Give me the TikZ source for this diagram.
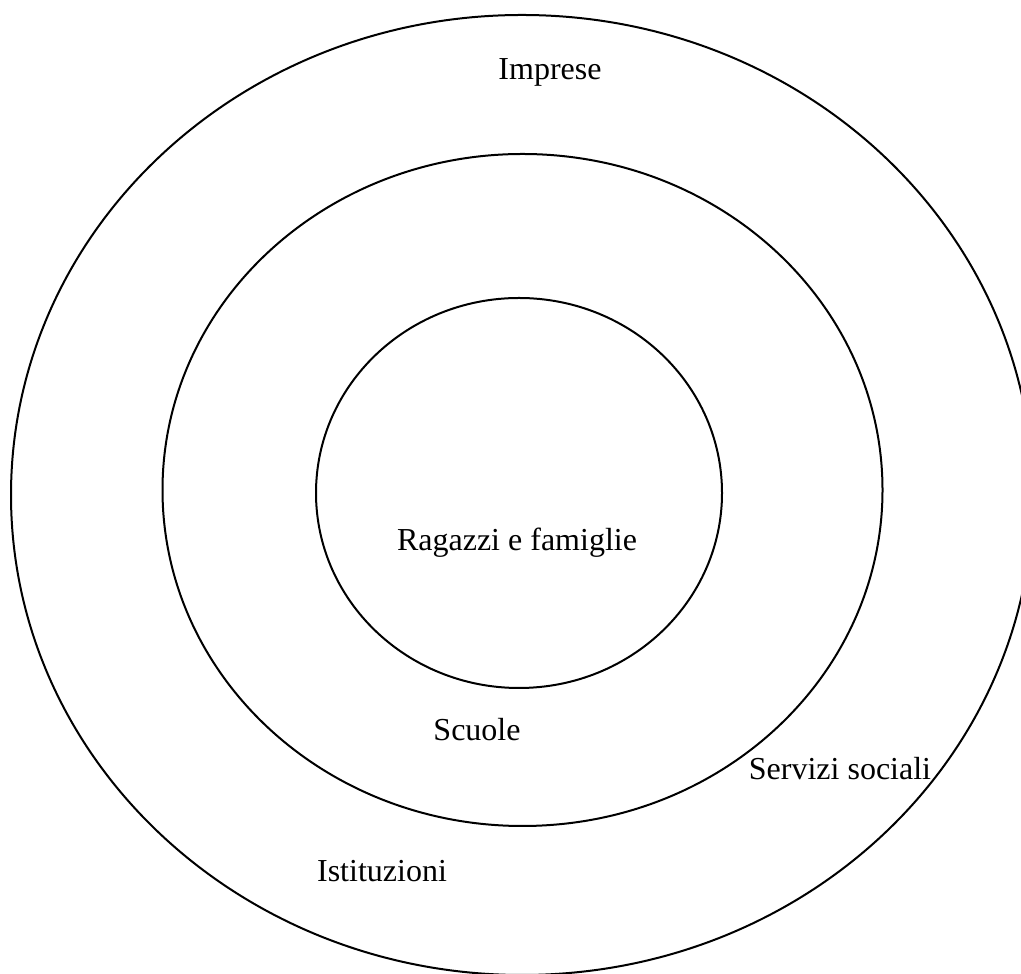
\documentclass[tikz,border=0pt]{standalone}
\usepackage{fontspec}
\setmainfont{Liberation Serif}
\usepackage{tikz}
\tikzset{
    ring/.style={draw, line width=1pt},
    every node/.style={inner sep=0mm, anchor=base, font=\fontsize{16}{19}\selectfont}
}

\begin{document}
\begin{tikzpicture}[x=0.5pt, y=0.5pt]
    \useasboundingbox (0,0) rectangle (1021,973);
    \clip (0,0) rectangle (1021,973);

    \coordinate (co) at (522,478);
    \coordinate (cm) at (522.5,483);
    \coordinate (ci) at (519,480);

    \draw[ring] (co) ellipse [x radius=511, y radius=480];
    \draw[ring] (cm) ellipse [x radius=360, y radius=336];
    \draw[ring] (ci) ellipse [x radius=203, y radius=195];

    \node (imprese) at (550,893) {Imprese};
    \node (ragazzi) at (517,422) {Ragazzi e famiglie};
    \node (scuole) at (477,232) {Scuole};
    \node (servizi) at (840,193) {Servizi sociali};
    \node (istituzioni) at (382,91) {Istituzioni};
\end{tikzpicture}
\end{document}
